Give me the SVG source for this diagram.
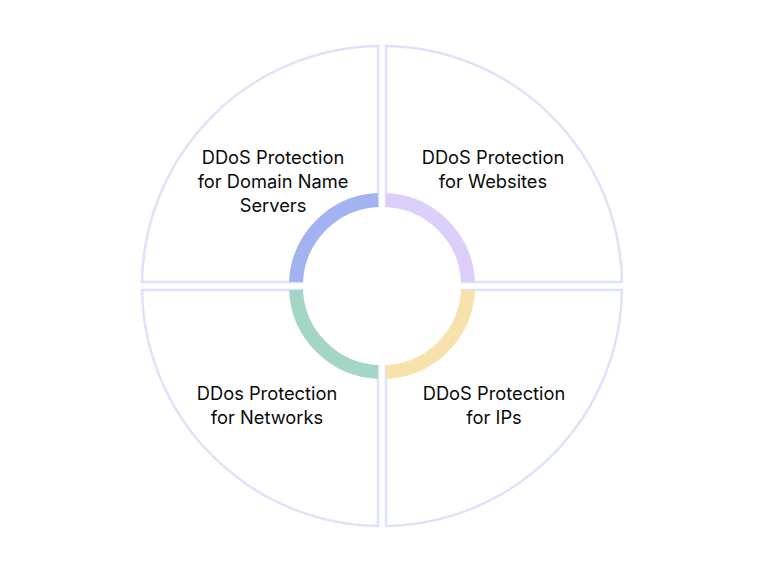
<svg xmlns="http://www.w3.org/2000/svg" width="763" height="581" viewBox="0 0 763 581">
<style>
.q{fill:#fff;stroke:#dde3fa;stroke-width:2.5}
.r{fill:none;stroke-width:14}
text{font-family:Inter,"Liberation Sans",sans-serif;font-size:18.3px;fill:#0a0a0a;text-anchor:middle}
</style>
<rect width="763" height="581" fill="#fff"/>
<g id="quadrants">
<g id="q-tr"><path class="q" d="M386,282 L386,46 A240,240 0 0 1 622,282 Z"/></g>
<g id="q-tl"><path class="q" d="M378,282 L378,46 A240,240 0 0 0 142,282 Z"/></g>
<g id="q-bl"><path class="q" d="M378,290 L378,526 A240,240 0 0 1 142,290 Z"/></g>
<g id="q-br"><path class="q" d="M386,290 L386,526 A240,240 0 0 0 622,290 Z"/></g>
</g>
<g id="ring">
<circle cx="382" cy="286" r="79" fill="#fff"/>
<path class="r" stroke="#a3b3f2" d="M378,200 A86,86 0 0 0 296,282"/>
<path class="r" stroke="#dcd0fa" d="M386,200 A86,86 0 0 1 468,282"/>
<path class="r" stroke="#a3d6c4" d="M296,290 A86,86 0 0 0 378,372"/>
<path class="r" stroke="#f7e2ab" d="M468,290 A86,86 0 0 1 386,372"/>
</g>
<g id="labels">
<text x="273" y="164">DDoS Protection</text>
<text x="273" y="188">for Domain Name</text>
<text x="273" y="212">Servers</text>
<text x="493" y="164">DDoS Protection</text>
<text x="493" y="188">for Websites</text>
<text x="267" y="400">DDos Protection</text>
<text x="267" y="424">for Networks</text>
<text x="494" y="400">DDoS Protection</text>
<text x="494" y="424">for IPs</text>
</g>
</svg>
